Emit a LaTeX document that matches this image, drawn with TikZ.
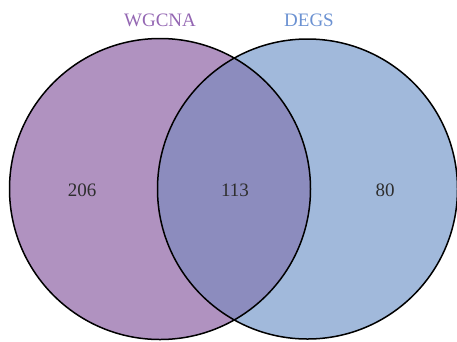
\documentclass[tikz,border=0pt]{standalone}
\usepackage{fontspec}
\setmainfont{Liberation Serif}
\definecolor{setA}{HTML}{B092C0}
\definecolor{setB}{HTML}{A1B9DB}
\definecolor{setAB}{HTML}{8C8CBE}
\definecolor{labA}{HTML}{9467B3}
\definecolor{labB}{HTML}{6C92D2}
\definecolor{numc}{HTML}{2E2E2E}
\begin{document}
\begin{tikzpicture}[x=1pt,y=-1pt,
  ring/.style={draw=black,line width=1.5pt},
  setlabel/.style={font=\fontsize{19}{22}\selectfont},
  count/.style={font=\fontsize{19}{22}\selectfont,text=numc}]
\useasboundingbox (0,0) rectangle (457,341);
\coordinate (cA) at (160,189);
\coordinate (cB) at (307.5,189);
\fill[setA] (cA) circle (150.5pt);
\fill[setB] (cB) circle (150pt);
\begin{scope}
  \clip (cA) circle (150.5pt);
  \fill[setAB] (cB) circle (150pt);
\end{scope}
\draw[ring] (cA) circle (150.5pt);
\draw[ring] (cB) circle (150pt);
\node[setlabel,text=labA] (lA) at (160,20) {WGCNA};
\node[setlabel,text=labB] (lB) at (309,20) {DEGS};
\node[count] (nA) at (82,190) {206};
\node[count] (nAB) at (235,190) {113};
\node[count] (nB) at (385,190) {80};
\end{tikzpicture}
\end{document}
